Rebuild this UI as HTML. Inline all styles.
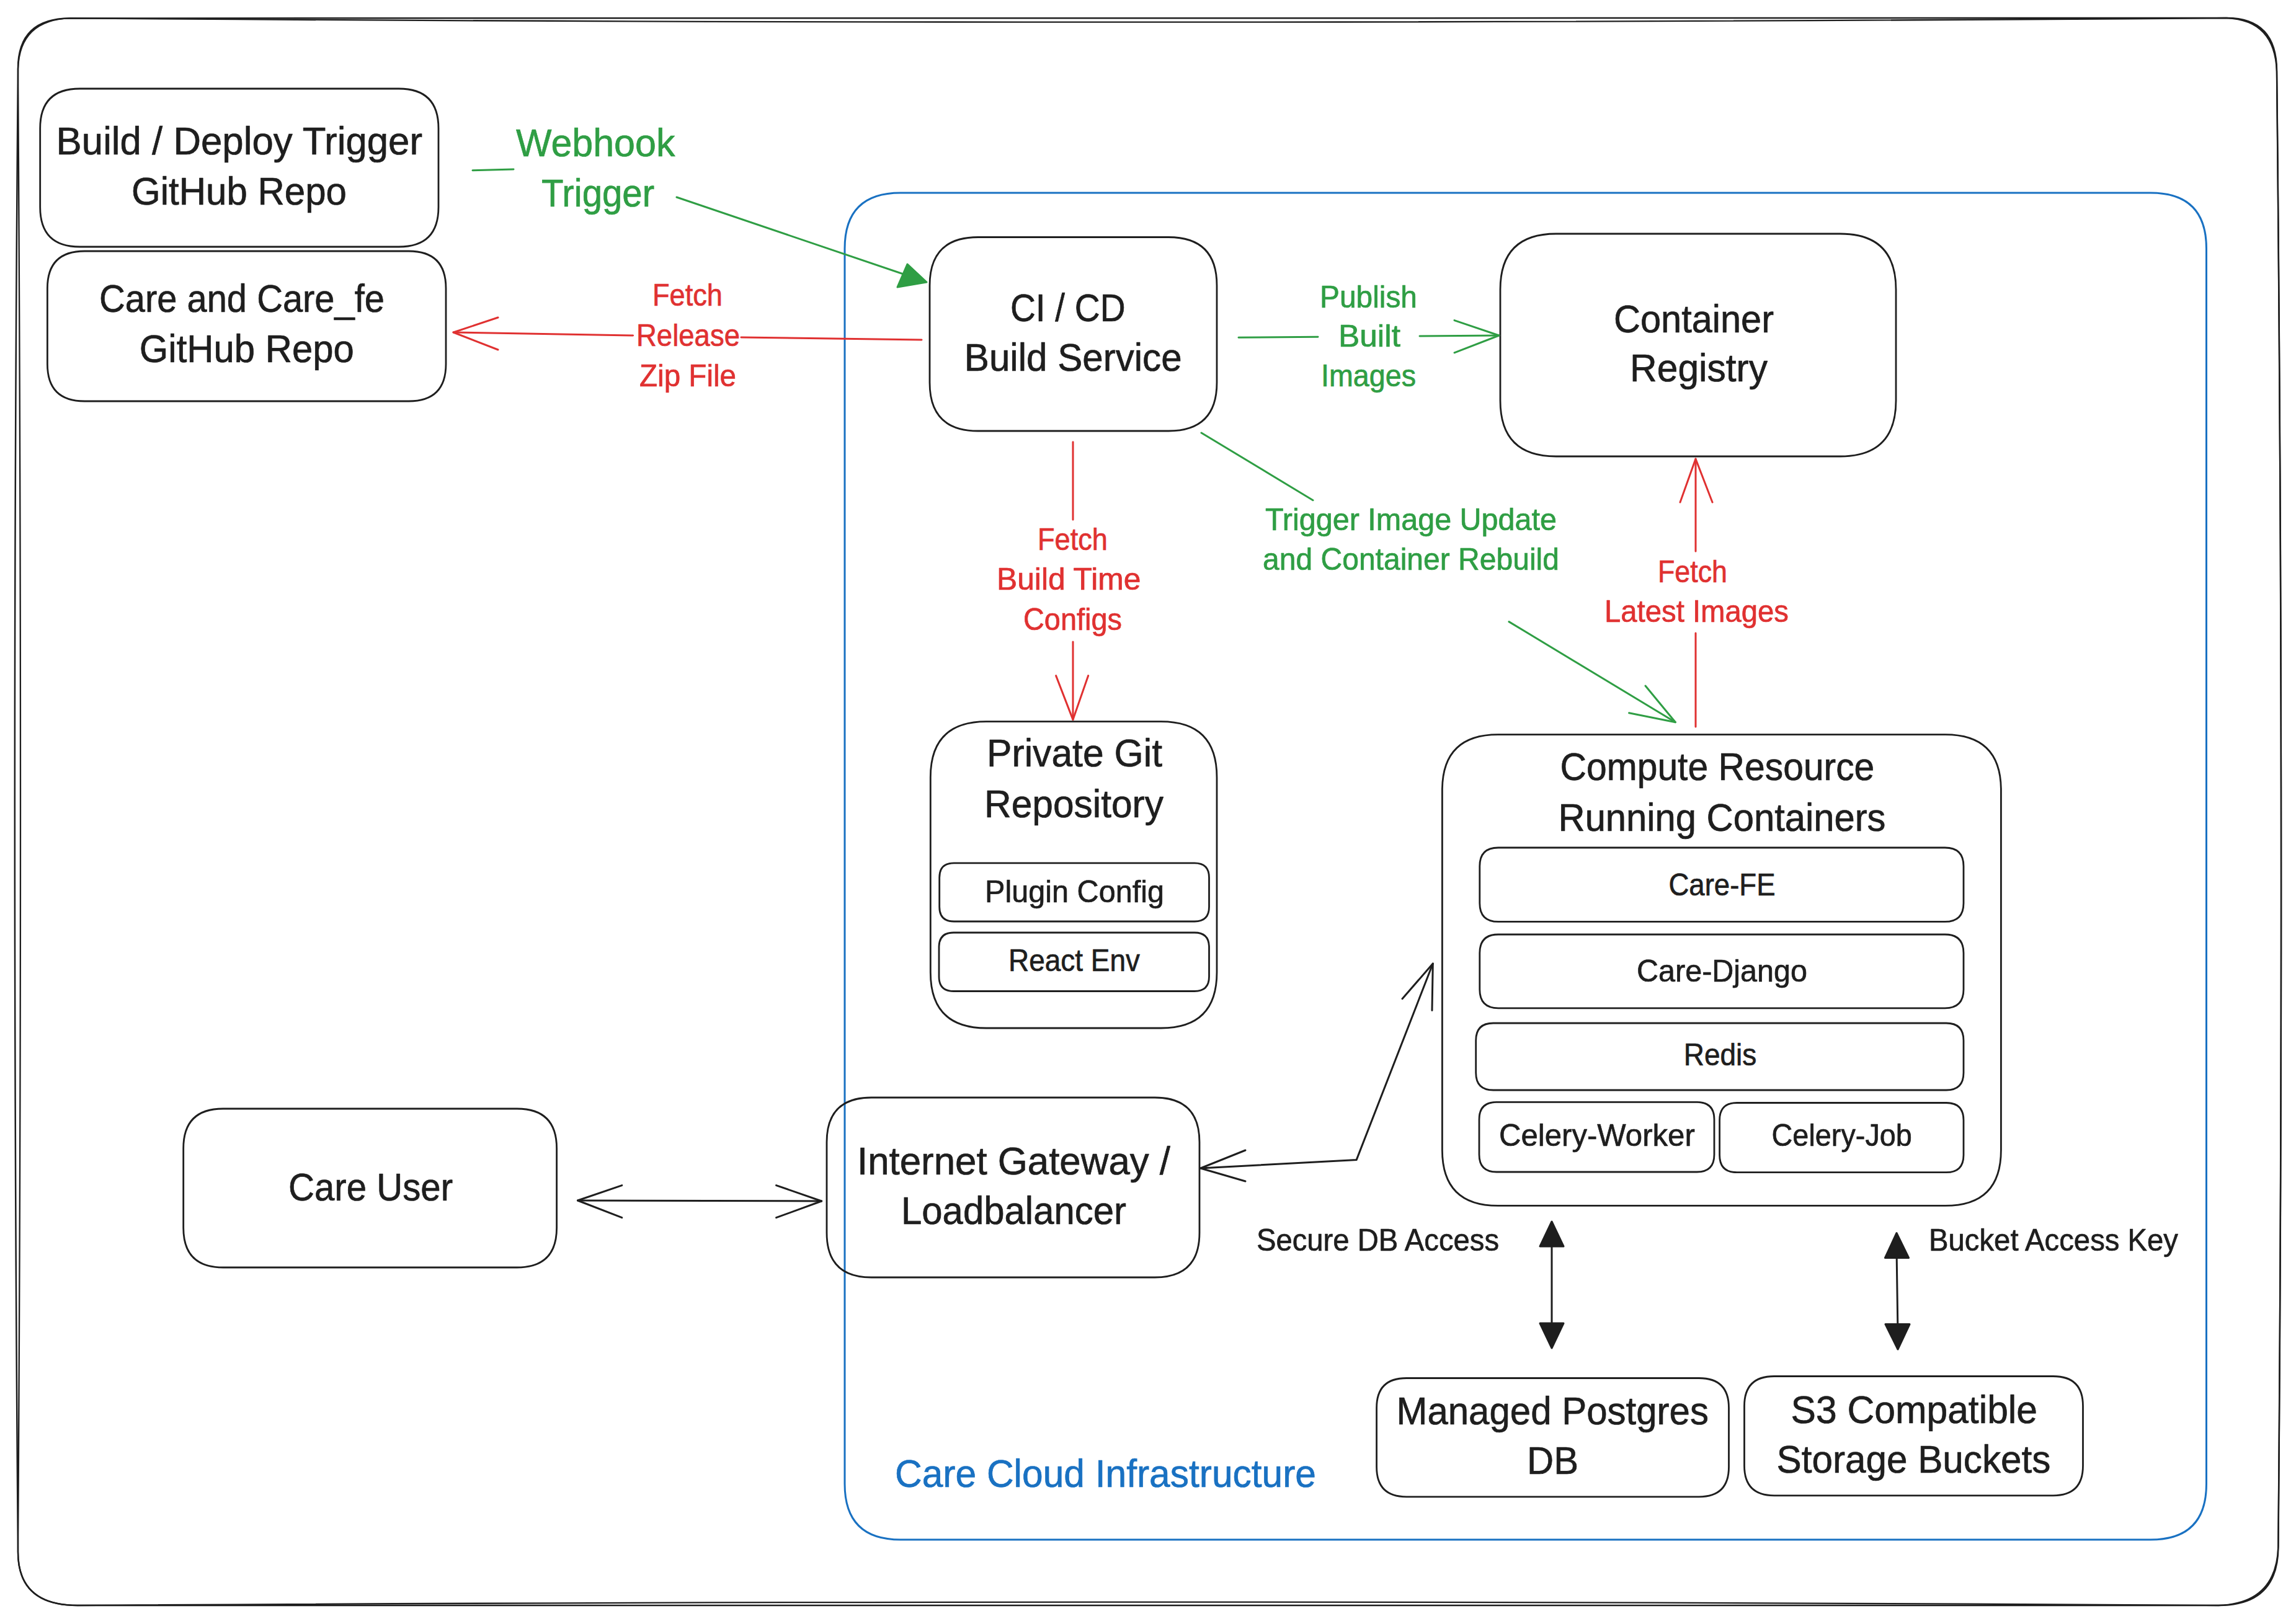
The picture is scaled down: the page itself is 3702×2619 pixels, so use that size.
<!DOCTYPE html>
<html><head><meta charset="utf-8"><style>
html,body{margin:0;padding:0;background:#fff;overflow:hidden;width:3702px;height:2619px;}
svg{display:block;}
text{font-family:"Liberation Sans", sans-serif;}
</style></head><body>
<svg width="3702" height="2619" viewBox="0 0 3702 2619">
<rect width="3702" height="2619" fill="#fff"/>
<path d="M113,29.4 Q1850,27.2 3590,29 Q3671,29 3671,115 Q3683.8,1300 3673.4,2494 Q3673.4,2589 3577,2589 Q1850,2590.6 125,2589 Q29,2589 29,2503 Q18.6,1300 29,111 Q29,29.4 113,29.4 Z" fill="none" stroke="#1e1e1e" stroke-width="2.5"/>
<path d="M113,29.4 Q1850,42.2 3590,29 Q3668,32 3671,115 Q3683.8,1300 3673.4,2494 Q3670.5,2586 3577,2589 Q1850,2578.2 125,2589 Q29,2589 29,2503 Q37,1300 29,111 Q31.5,32 113,29.4 Z" fill="none" stroke="#1e1e1e" stroke-width="2.3"/>
<path d="M1452.0,311.0 L3467.5,311.0 Q3557.5,311.0 3557.5,401.0 L3557.5,2393.0 Q3557.5,2483.0 3467.5,2483.0 L1452.0,2483.0 Q1362.0,2483.0 1362.0,2393.0 L1362.0,401.0 Q1362.0,311.0 1452.0,311.0 Z" fill="none" stroke="#1971c2" stroke-width="3.0" stroke-linecap="round" stroke-linejoin="round"/>
<text x="1782.5" y="2397.5" font-size="62.5" fill="#1971c2" stroke="#1971c2" stroke-width="0.7" stroke-linejoin="round" text-anchor="middle" textLength="679.0" lengthAdjust="spacingAndGlyphs">Care Cloud Infrastructure</text>
<path d="M128.7,143.0 L643.0,143.0 Q707.0,143.0 707.0,207.0 L707.0,334.0 Q707.0,398.0 643.0,398.0 L128.7,398.0 Q64.7,398.0 64.7,334.0 L64.7,207.0 Q64.7,143.0 128.7,143.0 Z" fill="none" stroke="#1e1e1e" stroke-width="2.8" stroke-linecap="round" stroke-linejoin="round"/>
<text x="385.8" y="249.3" font-size="62.5" fill="#1e1e1e" stroke="#1e1e1e" stroke-width="0.7" stroke-linejoin="round" text-anchor="middle" textLength="590.4" lengthAdjust="spacingAndGlyphs">Build / Deploy Trigger</text>
<text x="385.5" y="329.5" font-size="62.5" fill="#1e1e1e" stroke="#1e1e1e" stroke-width="0.7" stroke-linejoin="round" text-anchor="middle" textLength="347.0" lengthAdjust="spacingAndGlyphs">GitHub Repo</text>
<path d="M136.4,405.0 L659.0,405.0 Q719.0,405.0 719.0,465.0 L719.0,587.0 Q719.0,647.0 659.0,647.0 L136.4,647.0 Q76.4,647.0 76.4,587.0 L76.4,465.0 Q76.4,405.0 136.4,405.0 Z" fill="none" stroke="#1e1e1e" stroke-width="2.8" stroke-linecap="round" stroke-linejoin="round"/>
<text x="390.0" y="502.5" font-size="62.5" fill="#1e1e1e" stroke="#1e1e1e" stroke-width="0.7" stroke-linejoin="round" text-anchor="middle" textLength="460.0" lengthAdjust="spacingAndGlyphs">Care and Care_fe</text>
<text x="397.8" y="583.5" font-size="62.5" fill="#1e1e1e" stroke="#1e1e1e" stroke-width="0.7" stroke-linejoin="round" text-anchor="middle" textLength="346.0" lengthAdjust="spacingAndGlyphs">GitHub Repo</text>
<path d="M1577.0,382.5 L1884.0,382.5 Q1962.0,382.5 1962.0,460.5 L1962.0,617.0 Q1962.0,695.0 1884.0,695.0 L1577.0,695.0 Q1499.0,695.0 1499.0,617.0 L1499.0,460.5 Q1499.0,382.5 1577.0,382.5 Z" fill="none" stroke="#1e1e1e" stroke-width="2.8" stroke-linecap="round" stroke-linejoin="round"/>
<text x="1721.8" y="518.2" font-size="62.5" fill="#1e1e1e" stroke="#1e1e1e" stroke-width="0.7" stroke-linejoin="round" text-anchor="middle" textLength="185.7" lengthAdjust="spacingAndGlyphs">CI / CD</text>
<text x="1730.2" y="597.5" font-size="62.5" fill="#1e1e1e" stroke="#1e1e1e" stroke-width="0.7" stroke-linejoin="round" text-anchor="middle" textLength="350.8" lengthAdjust="spacingAndGlyphs">Build Service</text>
<path d="M2509.0,377.0 L2967.0,377.0 Q3057.0,377.0 3057.0,467.0 L3057.0,646.0 Q3057.0,736.0 2967.0,736.0 L2509.0,736.0 Q2419.0,736.0 2419.0,646.0 L2419.0,467.0 Q2419.0,377.0 2509.0,377.0 Z" fill="none" stroke="#1e1e1e" stroke-width="2.8" stroke-linecap="round" stroke-linejoin="round"/>
<text x="2731.0" y="536.0" font-size="62.5" fill="#1e1e1e" stroke="#1e1e1e" stroke-width="0.7" stroke-linejoin="round" text-anchor="middle" textLength="258.0" lengthAdjust="spacingAndGlyphs">Container</text>
<text x="2739.0" y="614.9" font-size="62.5" fill="#1e1e1e" stroke="#1e1e1e" stroke-width="0.7" stroke-linejoin="round" text-anchor="middle" textLength="222.0" lengthAdjust="spacingAndGlyphs">Registry</text>
<path d="M762.0,274.7 L828.0,273.0" fill="none" stroke="#2f9e44" stroke-width="3.0" stroke-linecap="round" stroke-linejoin="round"/>
<path d="M1091.0,318.0 L1486.0,452.0" fill="none" stroke="#2f9e44" stroke-width="3.0" stroke-linecap="round" stroke-linejoin="round"/>
<path d="M1494.0,455.0 L1463.0,426.0 L1447.0,463.0 Z" fill="#2f9e44" stroke="#2f9e44" stroke-width="3" stroke-linejoin="round"/>
<text x="960.2" y="252.0" font-size="62.5" fill="#2f9e44" stroke="#2f9e44" stroke-width="0.7" stroke-linejoin="round" text-anchor="middle" textLength="256.5" lengthAdjust="spacingAndGlyphs">Webhook</text>
<text x="964.0" y="333.0" font-size="62.5" fill="#2f9e44" stroke="#2f9e44" stroke-width="0.7" stroke-linejoin="round" text-anchor="middle" textLength="182.0" lengthAdjust="spacingAndGlyphs">Trigger</text>
<path d="M1486.0,548.0 L1195.0,544.0" fill="none" stroke="#e03131" stroke-width="3.0" stroke-linecap="round" stroke-linejoin="round"/>
<path d="M1020.6,541.0 L731.0,536.0" fill="none" stroke="#e03131" stroke-width="3.0" stroke-linecap="round" stroke-linejoin="round"/>
<path d="M803.0,512.0 L731.0,536.0 L803.0,564.0" fill="none" stroke="#e03131" stroke-width="3.0" stroke-linecap="round" stroke-linejoin="round"/>
<text x="1108.5" y="493.0" font-size="49.3" fill="#e03131" stroke="#e03131" stroke-width="0.7" stroke-linejoin="round" text-anchor="middle" textLength="113.0" lengthAdjust="spacingAndGlyphs">Fetch</text>
<text x="1109.5" y="557.7" font-size="49.3" fill="#e03131" stroke="#e03131" stroke-width="0.7" stroke-linejoin="round" text-anchor="middle" textLength="167.0" lengthAdjust="spacingAndGlyphs">Release</text>
<text x="1109.0" y="623.0" font-size="49.3" fill="#e03131" stroke="#e03131" stroke-width="0.7" stroke-linejoin="round" text-anchor="middle" textLength="156.0" lengthAdjust="spacingAndGlyphs">Zip File</text>
<path d="M1997.0,544.3 L2125.0,543.2" fill="none" stroke="#2f9e44" stroke-width="3.0" stroke-linecap="round" stroke-linejoin="round"/>
<path d="M2289.0,542.0 L2417.0,541.0" fill="none" stroke="#2f9e44" stroke-width="3.0" stroke-linecap="round" stroke-linejoin="round"/>
<path d="M2345.0,516.6 L2417.0,541.0 L2345.0,568.8" fill="none" stroke="#2f9e44" stroke-width="3.0" stroke-linecap="round" stroke-linejoin="round"/>
<text x="2206.5" y="495.7" font-size="49.3" fill="#2f9e44" stroke="#2f9e44" stroke-width="0.7" stroke-linejoin="round" text-anchor="middle" textLength="157.0" lengthAdjust="spacingAndGlyphs">Publish</text>
<text x="2208.0" y="559.0" font-size="49.3" fill="#2f9e44" stroke="#2f9e44" stroke-width="0.7" stroke-linejoin="round" text-anchor="middle" textLength="100.0" lengthAdjust="spacingAndGlyphs">Built</text>
<text x="2206.5" y="622.7" font-size="49.3" fill="#2f9e44" stroke="#2f9e44" stroke-width="0.7" stroke-linejoin="round" text-anchor="middle" textLength="153.0" lengthAdjust="spacingAndGlyphs">Images</text>
<path d="M1937.0,698.0 L2117.0,806.7" fill="none" stroke="#2f9e44" stroke-width="3.0" stroke-linecap="round" stroke-linejoin="round"/>
<path d="M2433.0,1002.6 L2701.4,1164.7" fill="none" stroke="#2f9e44" stroke-width="3.0" stroke-linecap="round" stroke-linejoin="round"/>
<path d="M2653.0,1106.0 L2701.4,1164.7 L2626.6,1149.7" fill="none" stroke="#2f9e44" stroke-width="3.0" stroke-linecap="round" stroke-linejoin="round"/>
<text x="2275.0" y="855.0" font-size="49.3" fill="#2f9e44" stroke="#2f9e44" stroke-width="0.7" stroke-linejoin="round" text-anchor="middle" textLength="470.0" lengthAdjust="spacingAndGlyphs">Trigger Image Update</text>
<text x="2275.0" y="919.0" font-size="49.3" fill="#2f9e44" stroke="#2f9e44" stroke-width="0.7" stroke-linejoin="round" text-anchor="middle" textLength="478.0" lengthAdjust="spacingAndGlyphs">and Container Rebuild</text>
<path d="M2734.0,740.0 L2734.0,889.0" fill="none" stroke="#e03131" stroke-width="3.0" stroke-linecap="round" stroke-linejoin="round"/>
<path d="M2734.0,1021.0 L2734.0,1172.0" fill="none" stroke="#e03131" stroke-width="3.0" stroke-linecap="round" stroke-linejoin="round"/>
<path d="M2709.0,810.0 L2734.0,740.0 L2761.0,810.0" fill="none" stroke="#e03131" stroke-width="3.0" stroke-linecap="round" stroke-linejoin="round"/>
<text x="2729.0" y="939.0" font-size="49.3" fill="#e03131" stroke="#e03131" stroke-width="0.7" stroke-linejoin="round" text-anchor="middle" textLength="112.0" lengthAdjust="spacingAndGlyphs">Fetch</text>
<text x="2735.5" y="1002.6" font-size="49.3" fill="#e03131" stroke="#e03131" stroke-width="0.7" stroke-linejoin="round" text-anchor="middle" textLength="297.0" lengthAdjust="spacingAndGlyphs">Latest Images</text>
<path d="M1730.0,712.7 L1730.0,838.0" fill="none" stroke="#e03131" stroke-width="3.0" stroke-linecap="round" stroke-linejoin="round"/>
<path d="M1730.0,1035.0 L1730.0,1160.6" fill="none" stroke="#e03131" stroke-width="3.0" stroke-linecap="round" stroke-linejoin="round"/>
<path d="M1702.6,1089.6 L1730.0,1160.6 L1754.7,1089.6" fill="none" stroke="#e03131" stroke-width="3.0" stroke-linecap="round" stroke-linejoin="round"/>
<text x="1729.5" y="887.0" font-size="49.3" fill="#e03131" stroke="#e03131" stroke-width="0.7" stroke-linejoin="round" text-anchor="middle" textLength="113.0" lengthAdjust="spacingAndGlyphs">Fetch</text>
<text x="1723.2" y="951.4" font-size="49.3" fill="#e03131" stroke="#e03131" stroke-width="0.7" stroke-linejoin="round" text-anchor="middle" textLength="232.5" lengthAdjust="spacingAndGlyphs">Build Time</text>
<text x="1729.5" y="1016.0" font-size="49.3" fill="#e03131" stroke="#e03131" stroke-width="0.7" stroke-linejoin="round" text-anchor="middle" textLength="159.0" lengthAdjust="spacingAndGlyphs">Configs</text>
<path d="M1590.3,1163.7 L1872.0,1163.7 Q1962.0,1163.7 1962.0,1253.7 L1962.0,1568.0 Q1962.0,1658.0 1872.0,1658.0 L1590.3,1658.0 Q1500.3,1658.0 1500.3,1568.0 L1500.3,1253.7 Q1500.3,1163.7 1590.3,1163.7 Z" fill="none" stroke="#1e1e1e" stroke-width="2.8" stroke-linecap="round" stroke-linejoin="round"/>
<text x="1732.5" y="1235.5" font-size="62.5" fill="#1e1e1e" stroke="#1e1e1e" stroke-width="0.7" stroke-linejoin="round" text-anchor="middle" textLength="283.0" lengthAdjust="spacingAndGlyphs">Private Git</text>
<text x="1731.5" y="1318.1" font-size="62.5" fill="#1e1e1e" stroke="#1e1e1e" stroke-width="0.7" stroke-linejoin="round" text-anchor="middle" textLength="289.0" lengthAdjust="spacingAndGlyphs">Repository</text>
<path d="M1538.2,1391.8 L1926.0,1391.8 Q1949.5,1391.8 1949.5,1415.3 L1949.5,1462.5 Q1949.5,1486.0 1926.0,1486.0 L1538.2,1486.0 Q1514.7,1486.0 1514.7,1462.5 L1514.7,1415.3 Q1514.7,1391.8 1538.2,1391.8 Z" fill="none" stroke="#1e1e1e" stroke-width="2.8" stroke-linecap="round" stroke-linejoin="round"/>
<text x="1732.5" y="1455.0" font-size="49.3" fill="#1e1e1e" stroke="#1e1e1e" stroke-width="0.7" stroke-linejoin="round" text-anchor="middle" textLength="289.0" lengthAdjust="spacingAndGlyphs">Plugin Config</text>
<path d="M1537.5,1504.0 L1926.0,1504.0 Q1949.5,1504.0 1949.5,1527.5 L1949.5,1575.0 Q1949.5,1598.5 1926.0,1598.5 L1537.5,1598.5 Q1514.0,1598.5 1514.0,1575.0 L1514.0,1527.5 Q1514.0,1504.0 1537.5,1504.0 Z" fill="none" stroke="#1e1e1e" stroke-width="2.8" stroke-linecap="round" stroke-linejoin="round"/>
<text x="1732.0" y="1566.0" font-size="49.3" fill="#1e1e1e" stroke="#1e1e1e" stroke-width="0.7" stroke-linejoin="round" text-anchor="middle" textLength="212.0" lengthAdjust="spacingAndGlyphs">React Env</text>
<path d="M2415.4,1184.7 L3136.4,1184.7 Q3226.4,1184.7 3226.4,1274.7 L3226.4,1854.4 Q3226.4,1944.4 3136.4,1944.4 L2415.4,1944.4 Q2325.4,1944.4 2325.4,1854.4 L2325.4,1274.7 Q2325.4,1184.7 2415.4,1184.7 Z" fill="none" stroke="#1e1e1e" stroke-width="2.8" stroke-linecap="round" stroke-linejoin="round"/>
<text x="2768.9" y="1258.0" font-size="62.5" fill="#1e1e1e" stroke="#1e1e1e" stroke-width="0.7" stroke-linejoin="round" text-anchor="middle" textLength="506.9" lengthAdjust="spacingAndGlyphs">Compute Resource</text>
<text x="2776.5" y="1339.5" font-size="62.5" fill="#1e1e1e" stroke="#1e1e1e" stroke-width="0.7" stroke-linejoin="round" text-anchor="middle" textLength="528.0" lengthAdjust="spacingAndGlyphs">Running Containers</text>
<path d="M2415.8,1367.0 L3136.0,1367.0 Q3166.0,1367.0 3166.0,1397.0 L3166.0,1456.4 Q3166.0,1486.4 3136.0,1486.4 L2415.8,1486.4 Q2385.8,1486.4 2385.8,1456.4 L2385.8,1397.0 Q2385.8,1367.0 2415.8,1367.0 Z" fill="none" stroke="#1e1e1e" stroke-width="2.8" stroke-linecap="round" stroke-linejoin="round"/>
<text x="2776.5" y="1443.8" font-size="49.3" fill="#1e1e1e" stroke="#1e1e1e" stroke-width="0.7" stroke-linejoin="round" text-anchor="middle" textLength="172.0" lengthAdjust="spacingAndGlyphs">Care-FE</text>
<path d="M2415.8,1507.0 L3136.0,1507.0 Q3166.0,1507.0 3166.0,1537.0 L3166.0,1595.8 Q3166.0,1625.8 3136.0,1625.8 L2415.8,1625.8 Q2385.8,1625.8 2385.8,1595.8 L2385.8,1537.0 Q2385.8,1507.0 2415.8,1507.0 Z" fill="none" stroke="#1e1e1e" stroke-width="2.8" stroke-linecap="round" stroke-linejoin="round"/>
<text x="2776.5" y="1582.6" font-size="49.3" fill="#1e1e1e" stroke="#1e1e1e" stroke-width="0.7" stroke-linejoin="round" text-anchor="middle" textLength="275.0" lengthAdjust="spacingAndGlyphs">Care-Django</text>
<path d="M2407.7,1650.0 L3138.0,1650.0 Q3166.0,1650.0 3166.0,1678.0 L3166.0,1730.0 Q3166.0,1758.0 3138.0,1758.0 L2407.7,1758.0 Q2379.7,1758.0 2379.7,1730.0 L2379.7,1678.0 Q2379.7,1650.0 2407.7,1650.0 Z" fill="none" stroke="#1e1e1e" stroke-width="2.8" stroke-linecap="round" stroke-linejoin="round"/>
<text x="2773.5" y="1718.3" font-size="49.3" fill="#1e1e1e" stroke="#1e1e1e" stroke-width="0.7" stroke-linejoin="round" text-anchor="middle" textLength="117.6" lengthAdjust="spacingAndGlyphs">Redis</text>
<path d="M2413.0,1777.3 L2736.0,1777.3 Q2764.0,1777.3 2764.0,1805.3 L2764.0,1862.0 Q2764.0,1890.0 2736.0,1890.0 L2413.0,1890.0 Q2385.0,1890.0 2385.0,1862.0 L2385.0,1805.3 Q2385.0,1777.3 2413.0,1777.3 Z" fill="none" stroke="#1e1e1e" stroke-width="2.8" stroke-linecap="round" stroke-linejoin="round"/>
<text x="2574.9" y="1848.0" font-size="49.3" fill="#1e1e1e" stroke="#1e1e1e" stroke-width="0.7" stroke-linejoin="round" text-anchor="middle" textLength="315.8" lengthAdjust="spacingAndGlyphs">Celery-Worker</text>
<path d="M2800.6,1778.5 L3138.0,1778.5 Q3166.0,1778.5 3166.0,1806.5 L3166.0,1862.7 Q3166.0,1890.7 3138.0,1890.7 L2800.6,1890.7 Q2772.6,1890.7 2772.6,1862.7 L2772.6,1806.5 Q2772.6,1778.5 2800.6,1778.5 Z" fill="none" stroke="#1e1e1e" stroke-width="2.8" stroke-linecap="round" stroke-linejoin="round"/>
<text x="2969.7" y="1848.0" font-size="49.3" fill="#1e1e1e" stroke="#1e1e1e" stroke-width="0.7" stroke-linejoin="round" text-anchor="middle" textLength="226.3" lengthAdjust="spacingAndGlyphs">Celery-Job</text>
<path d="M359.7,1788.0 L833.6,1788.0 Q897.6,1788.0 897.6,1852.0 L897.6,1980.0 Q897.6,2044.0 833.6,2044.0 L359.7,2044.0 Q295.7,2044.0 295.7,1980.0 L295.7,1852.0 Q295.7,1788.0 359.7,1788.0 Z" fill="none" stroke="#1e1e1e" stroke-width="2.8" stroke-linecap="round" stroke-linejoin="round"/>
<text x="597.5" y="1935.5" font-size="62.5" fill="#1e1e1e" stroke="#1e1e1e" stroke-width="0.7" stroke-linejoin="round" text-anchor="middle" textLength="265.0" lengthAdjust="spacingAndGlyphs">Care User</text>
<path d="M1405.0,1770.0 L1862.0,1770.0 Q1934.0,1770.0 1934.0,1842.0 L1934.0,1988.0 Q1934.0,2060.0 1862.0,2060.0 L1405.0,2060.0 Q1333.0,2060.0 1333.0,1988.0 L1333.0,1842.0 Q1333.0,1770.0 1405.0,1770.0 Z" fill="none" stroke="#1e1e1e" stroke-width="2.8" stroke-linecap="round" stroke-linejoin="round"/>
<text x="1634.5" y="1893.5" font-size="62.5" fill="#1e1e1e" stroke="#1e1e1e" stroke-width="0.7" stroke-linejoin="round" text-anchor="middle" textLength="505.0" lengthAdjust="spacingAndGlyphs">Internet Gateway /</text>
<text x="1634.5" y="1974.1" font-size="62.5" fill="#1e1e1e" stroke="#1e1e1e" stroke-width="0.7" stroke-linejoin="round" text-anchor="middle" textLength="363.0" lengthAdjust="spacingAndGlyphs">Loadbalancer</text>
<path d="M931.4,1936.0 L1324.7,1937.0" fill="none" stroke="#1e1e1e" stroke-width="3.0" stroke-linecap="round" stroke-linejoin="round"/>
<path d="M1002.8,1911.6 L931.4,1936.0 L1002.8,1963.7" fill="none" stroke="#1e1e1e" stroke-width="3.0" stroke-linecap="round" stroke-linejoin="round"/>
<path d="M1251.6,1911.6 L1324.7,1937.0 L1251.6,1963.7" fill="none" stroke="#1e1e1e" stroke-width="3.0" stroke-linecap="round" stroke-linejoin="round"/>
<path d="M1935.7,1884.0 L2187.2,1870.4 L2310.3,1554.0" fill="none" stroke="#1e1e1e" stroke-width="3.0" stroke-linecap="round" stroke-linejoin="round"/>
<path d="M2008.0,1855.0 L1935.7,1884.0 L2008.0,1905.0" fill="none" stroke="#1e1e1e" stroke-width="3.0" stroke-linecap="round" stroke-linejoin="round"/>
<path d="M2261.0,1610.7 L2310.3,1554.0 L2309.0,1629.4" fill="none" stroke="#1e1e1e" stroke-width="3.0" stroke-linecap="round" stroke-linejoin="round"/>
<text x="2221.5" y="2017.0" font-size="49.3" fill="#1e1e1e" stroke="#1e1e1e" stroke-width="0.7" stroke-linejoin="round" text-anchor="middle" textLength="391.0" lengthAdjust="spacingAndGlyphs">Secure DB Access</text>
<text x="3311.0" y="2017.0" font-size="49.3" fill="#1e1e1e" stroke="#1e1e1e" stroke-width="0.7" stroke-linejoin="round" text-anchor="middle" textLength="402.0" lengthAdjust="spacingAndGlyphs">Bucket Access Key</text>
<path d="M2502.0,2000.0 L2502.0,2150.0" fill="none" stroke="#1e1e1e" stroke-width="3.0" stroke-linecap="round" stroke-linejoin="round"/>
<path d="M2502.0,1970.0 L2483.0,2010.0 L2521.0,2010.0 Z" fill="#1e1e1e" stroke="#1e1e1e" stroke-width="3" stroke-linejoin="round"/>
<path d="M2502.0,2174.0 L2483.0,2134.0 L2521.0,2134.0 Z" fill="#1e1e1e" stroke="#1e1e1e" stroke-width="3" stroke-linejoin="round"/>
<path d="M3058.0,2015.0 L3060.0,2150.0" fill="none" stroke="#1e1e1e" stroke-width="3.0" stroke-linecap="round" stroke-linejoin="round"/>
<path d="M3058.0,1988.5 L3039.5,2028.5 L3077.5,2028.5 Z" fill="#1e1e1e" stroke="#1e1e1e" stroke-width="3" stroke-linejoin="round"/>
<path d="M3060.0,2176.0 L3040.0,2135.5 L3079.0,2135.5 Z" fill="#1e1e1e" stroke="#1e1e1e" stroke-width="3" stroke-linejoin="round"/>
<path d="M2267.6,2222.5 L2739.5,2222.5 Q2787.5,2222.5 2787.5,2270.5 L2787.5,2365.8 Q2787.5,2413.8 2739.5,2413.8 L2267.6,2413.8 Q2219.6,2413.8 2219.6,2365.8 L2219.6,2270.5 Q2219.6,2222.5 2267.6,2222.5 Z" fill="none" stroke="#1e1e1e" stroke-width="2.8" stroke-linecap="round" stroke-linejoin="round"/>
<text x="2503.2" y="2297.1" font-size="62.5" fill="#1e1e1e" stroke="#1e1e1e" stroke-width="0.7" stroke-linejoin="round" text-anchor="middle" textLength="503.5" lengthAdjust="spacingAndGlyphs">Managed Postgres</text>
<text x="2503.5" y="2377.3" font-size="62.5" fill="#1e1e1e" stroke="#1e1e1e" stroke-width="0.7" stroke-linejoin="round" text-anchor="middle" textLength="83.0" lengthAdjust="spacingAndGlyphs">DB</text>
<path d="M2860.5,2219.5 L3310.5,2219.5 Q3358.5,2219.5 3358.5,2267.5 L3358.5,2363.8 Q3358.5,2411.8 3310.5,2411.8 L2860.5,2411.8 Q2812.5,2411.8 2812.5,2363.8 L2812.5,2267.5 Q2812.5,2219.5 2860.5,2219.5 Z" fill="none" stroke="#1e1e1e" stroke-width="2.8" stroke-linecap="round" stroke-linejoin="round"/>
<text x="3086.3" y="2295.1" font-size="62.5" fill="#1e1e1e" stroke="#1e1e1e" stroke-width="0.7" stroke-linejoin="round" text-anchor="middle" textLength="397.4" lengthAdjust="spacingAndGlyphs">S3 Compatible</text>
<text x="3085.5" y="2375.3" font-size="62.5" fill="#1e1e1e" stroke="#1e1e1e" stroke-width="0.7" stroke-linejoin="round" text-anchor="middle" textLength="441.8" lengthAdjust="spacingAndGlyphs">Storage Buckets</text>
</svg>
</body></html>
